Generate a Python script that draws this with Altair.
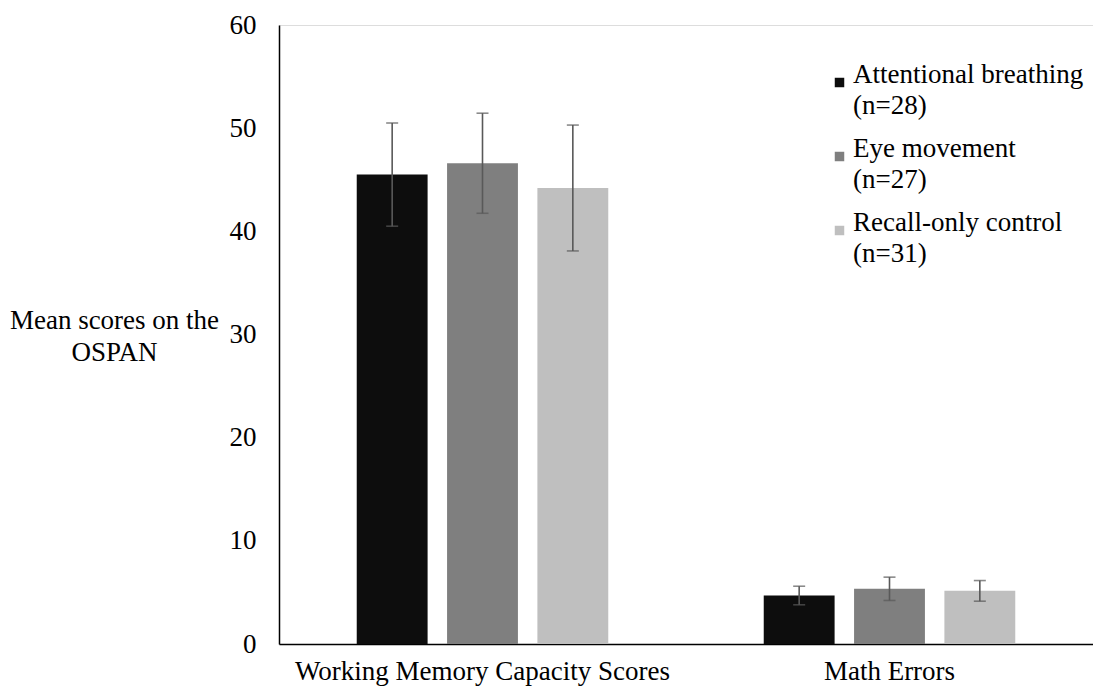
import altair as alt
import pandas as pd

# Measures on the x axis and the three conditions
measures = ["Working Memory Capacity Scores", "Math Errors"]
groups = ["Attentional breathing", "Eye movement", "Recall-only control"]
group_n = [28, 27, 31]

# Means and error half-widths, one list per measure (in group order)
wmc_means = [45.5, 46.6, 44.2]
wmc_err = [5.0, 4.85, 6.1]
math_means = [4.7, 5.35, 5.15]
math_err = [0.9, 1.13, 1.0]

colors = ["#0d0d0d", "#7f7f7f", "#bfbfbf"]
FONT = "Liberation Serif"
FS = 27

labels = [f"{g}|(n={n})" for g, n in zip(groups, group_n)]

rows = []
for measure, means, errs in [(measures[0], wmc_means, wmc_err), (measures[1], math_means, math_err)]:
    for lab, m, e in zip(labels, means, errs):
        rows.append({"measure": measure, "group": lab, "mean": m, "lo": m - e, "hi": m + e})
df = pd.DataFrame(rows)

x_enc = alt.X(
    "measure:N",
    sort=measures,
    scale=alt.Scale(paddingInner=0.382, paddingOuter=0.191),
    axis=alt.Axis(
        title=None, labelAngle=0, ticks=False, labelPadding=14,
        labelFontSize=FS, labelFont=FONT, labelColor="#000000",
        domainColor="#000000", domainWidth=1.5, labelLimit=500,
    ),
)
xoff = alt.XOffset("group:N", sort=labels, scale=alt.Scale(paddingInner=0.2155, paddingOuter=0))

bars = alt.Chart(df).mark_bar().encode(
    x=x_enc,
    xOffset=xoff,
    y=alt.Y(
        "mean:Q",
        scale=alt.Scale(domain=[0, 60], nice=False),
        axis=alt.Axis(
            values=[0, 10, 20, 30, 40, 50, 60], ticks=False, grid=False,
            labelPadding=23, labelFontSize=FS, labelFont=FONT, labelColor="#000000",
            domainColor="#000000", domainWidth=1.5,
            title=["Mean scores on the", "OSPAN"], titleAngle=0, titleAlign="center",
            titleBaseline="alphabetic", titleX=-165, titleY=303, titleFont=FONT,
            titleFontSize=FS, titleFontWeight="normal", titleLineHeight=32,
            titleColor="#000000",
        ),
    ),
    color=alt.Color(
        "group:N", sort=labels,
        scale=alt.Scale(domain=labels, range=colors),
        legend=alt.Legend(
            title=None, orient="none", legendX=547, legendY=44,
            symbolType="square", symbolSize=90, symbolStrokeWidth=0,
            labelFont=FONT, labelFontSize=FS, labelColor="#000000",
            labelExpr="split(datum.label, '|')",
            labelBaseline="alphabetic", labelOffset=0, labelLimit=400, rowPadding=15,
        ),
    ),
)

err_color = "#595959"
whisk = alt.Chart(df).mark_rule(color=err_color, strokeWidth=1.6).encode(
    x=alt.X("measure:N", sort=measures), xOffset=xoff, y="lo:Q", y2="hi:Q"
)
cap_hi = alt.Chart(df).mark_tick(color=err_color, size=12, thickness=1.6).encode(
    x=alt.X("measure:N", sort=measures), xOffset=xoff, y="hi:Q"
)
cap_lo = alt.Chart(df).mark_tick(color=err_color, size=12, thickness=1.6).encode(
    x=alt.X("measure:N", sort=measures), xOffset=xoff, y="lo:Q"
)

chart = (
    alt.layer(bars, whisk, cap_hi, cap_lo)
    .properties(
        width=814, height=619,
        autosize=alt.AutoSizeParams(type="none"),
        padding={"left": 279, "top": 25, "right": 0, "bottom": 44},
        background="#ffffff",
    )
    .configure_view(stroke=None)
    .configure(style={"guide-label": {"lineHeight": 31}})
)

chart.save("out.html", embed_options={"renderer": "svg", "actions": False})
